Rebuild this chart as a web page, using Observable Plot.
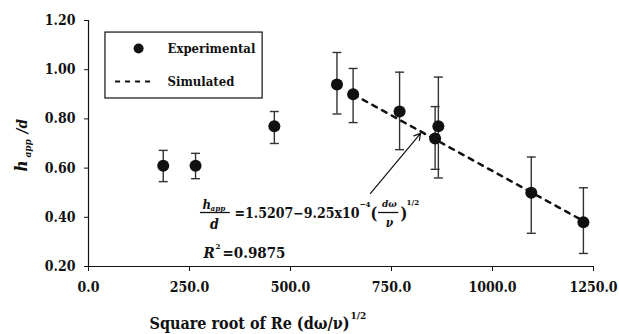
<!DOCTYPE html>
<html>
<head>
<meta charset="utf-8">
<script src="https://cdn.jsdelivr.net/npm/d3@7"></script>
<script src="https://cdn.jsdelivr.net/npm/@observablehq/plot@0.6"></script>
<style>
  html, body { margin: 0; padding: 0; background: white; }
  #chart { width: 619px; height: 334px; }
  #chart svg, #chart svg text, #chart svg g { font-family: "DejaVu Serif", serif !important; font-stretch: condensed; }
</style>
</head>
<body>
<div id="chart"></div>
<script>
// ---- data ----
const expX    = [185, 265, 460, 615, 655, 770, 866, 858, 1096, 1225];
const expY    = [0.61, 0.61, 0.77, 0.94, 0.90, 0.83, 0.77, 0.72, 0.50, 0.38];
const errLow  = [0.545, 0.557, 0.70, 0.82, 0.785, 0.675, 0.56, 0.595, 0.335, 0.253];
const errHigh = [0.672, 0.66, 0.83, 1.07, 1.005, 0.99, 0.97, 0.85, 0.645, 0.52];
const simX = [655, 1225];
const simY = [0.90, 0.385];
const xTicks = [0, 250, 500, 750, 1000, 1250];
const yTicks = [0.2, 0.4, 0.6, 0.8, 1.0, 1.2];

const exp = expX.map((x, i) => ({x, y: expY[i], lo: errLow[i], hi: errHigh[i]}));
const sim = simX.map((x, i) => ({x, y: simY[i]}));

const ML = 88, MT = 20;
const INK = "#111";
const FONT = "DejaVu Serif, serif";

function T(text, px, py, o = {}) {
  return Plot.text([text], {
    text: d => d, frameAnchor: "top-left", dx: px - ML, dy: py - MT,
    textAnchor: "start", lineAnchor: "middle", fill: INK,
    fontWeight: "bold", fontSize: 15, fontFamily: FONT, ...o
  });
}

const cap = {
  draw(ctx, size) {
    const r = Math.sqrt(size / Math.PI);
    ctx.moveTo(-r, 0); ctx.lineTo(r, 0);
  }
};

const chart = Plot.plot({
  width: 619, height: 334,
  marginLeft: ML, marginRight: 26, marginTop: MT, marginBottom: 68,
  style: {fontFamily: FONT, fontWeight: "bold", fontSize: "14px", color: INK, background: "white"},
  x: {domain: [0, 1250], label: null},
  y: {domain: [0.2, 1.2], label: null},
  marks: [
    Plot.axisX({ticks: xTicks, tickFormat: d => d.toFixed(1), tickSize: 5, tickPadding: 11, label: null, fontSize: 14, fontWeight: "bold", fontFamily: FONT}),
    Plot.axisY({ticks: yTicks, tickFormat: d => d.toFixed(2), tickSize: 4, tickPadding: 9, label: null, fontSize: 14, fontWeight: "bold", fontFamily: FONT}),
    Plot.ruleX([0], {stroke: INK, strokeWidth: 1.2}),
    Plot.ruleY([0.2], {stroke: INK, strokeWidth: 1.2}),
    // error bars
    Plot.ruleX(exp, {x: "x", y1: "lo", y2: "hi", stroke: "#333", strokeWidth: 1.4}),
    Plot.dot(exp, {x: "x", y: "lo", symbol: cap, r: 4.5, stroke: "#333", fill: "none", strokeWidth: 1.4}),
    Plot.dot(exp, {x: "x", y: "hi", symbol: cap, r: 4.5, stroke: "#333", fill: "none", strokeWidth: 1.4}),
    // simulated
    Plot.line(sim, {x: "x", y: "y", stroke: INK, strokeWidth: 2.5, strokeDasharray: "5,6"}),
    // experimental
    Plot.dot(exp, {x: "x", y: "y", r: 6, fill: INK, stroke: "none"}),
    // arrow
    Plot.arrow([{}], {x1: 698, y1: 0.497, x2: 822, y2: 0.741, stroke: INK, strokeWidth: 1.2, headLength: 9}),
    // legend
    Plot.rect([{}], {x1: 42, x2: 431, y1: 0.883, y2: 1.151, fill: "white", stroke: INK, strokeWidth: 1.2}),
    Plot.dot([{}], {x: 124, y: 1.086, r: 5, fill: INK}),
    Plot.ruleY([0.952], {x1: 67, x2: 158, stroke: INK, strokeWidth: 2, strokeDasharray: "5,5"}),
    T("Experimental", 167, 48, {fontSize: 13}),
    T("Simulated", 167, 81, {fontSize: 13}),
    // y-axis title
    T("h", 21, 171, {rotate: -90, fontStyle: "italic", fontSize: 17}),
    T("app", 27, 157, {rotate: -90, fontStyle: "italic", fontSize: 10}),
    T("/d", 22, 133, {rotate: -90, fontStyle: "italic", fontSize: 15}),
    // x-axis title
    T("Square root of Re (dω/ν)", 349, 323, {fontSize: 16, textAnchor: "end"}),
    T("1/2", 350, 315, {fontSize: 10}),
    // equation
    T("h", 202, 204, {fontStyle: "italic", fontSize: 13}),
    T("app", 210, 208, {fontStyle: "italic", fontSize: 8}),
    Plot.ruleY([0.4195], {x1: 277, x2: 351, stroke: INK, strokeWidth: 1.3}),
    T("d", 214, 224, {fontStyle: "italic", fontSize: 14, textAnchor: "middle"}),
    T("=1.5207−9.25x10", 359, 213, {fontSize: 14, textAnchor: "end"}),
    T("−4", 359, 204, {fontSize: 8}),
    T("(", 370, 213, {fontSize: 16}),
    T("dω", 389, 203, {fontStyle: "italic", fontSize: 10, textAnchor: "middle"}),
    Plot.ruleY([0.4195], {x1: 718, x2: 768, stroke: INK, strokeWidth: 1.3}),
    T("ν", 389, 223, {fontStyle: "italic", fontSize: 12, textAnchor: "middle"}),
    T(")", 400, 213, {fontSize: 16}),
    T("1/2", 406, 202, {fontSize: 8}),
    T("R", 203, 253, {fontStyle: "italic", fontSize: 15}),
    T("2", 215, 246, {fontSize: 8}),
    T("=0.9875", 222, 253, {fontSize: 15})
  ]
});
document.getElementById("chart").appendChild(chart);
</script>
</body>
</html>
